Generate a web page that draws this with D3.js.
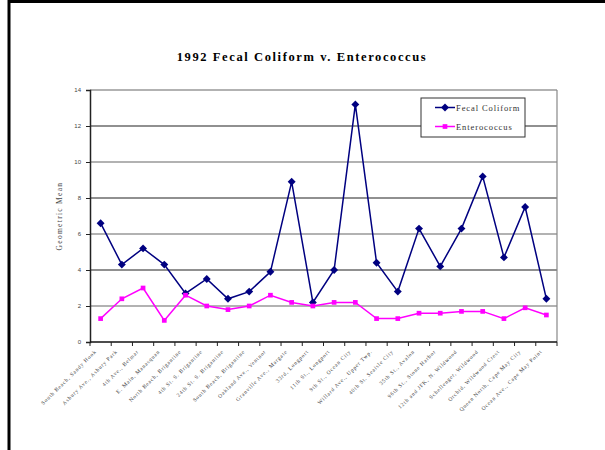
<!DOCTYPE html>
<html>
<head>
<meta charset="utf-8">
<script src="https://cdn.jsdelivr.net/npm/d3@7"></script>
<style>
	body { margin: 0; background: #fff; }
	svg { display: block; }
	.title { font: bold 12.5px 'Liberation Serif', serif; letter-spacing: 1.6px; }
	.axis text { font: 6px 'Liberation Sans', sans-serif; fill: #444; }
	.cat { font: 5.5px 'Liberation Serif', serif; fill: #444; letter-spacing: 0.75px; }
	.ylabel { font: 7.5px 'Liberation Serif', serif; fill: #444; letter-spacing: 1.3px; }
	.legend text { font: 8.5px 'Liberation Serif', serif; fill: #333; letter-spacing: 0.9px; }
</style>
</head>
<body>
<script>
const sites = [
	'South Beach, Sandy Hook', 'Asbury Ave., Asbury Park', '4th Ave., Belmar',
	'E. Main, Manasquan', 'North Beach, Brigantine', '4th St. S. Brigantine',
	'24th St. S. Brigantine', 'South Beach, Brigantine', 'Oakland Ave., Ventnor',
	'Granville Ave., Margate', '33rd, Longport', '11th St., Longport',
	'9th St., Ocean City', 'Willard Ave., Upper Twp.', '40th St. Seaisle City',
	'35th St., Avalon', '96th St., Stone Harbor', '12th and JFK, N. Wildwood',
	'Schellenger, Wildwood', 'Orchid, Wildwood Crest', 'Queen North, Cape May City',
	'Ocean Ave., Cape May Point'
];
const fecalColiform = [6.6, 4.3, 5.2, 4.3, 2.7, 3.5, 2.4, 2.8, 3.9, 8.9, 2.2,
	4.0, 13.2, 4.4, 2.8, 6.3, 4.2, 6.3, 9.2, 4.7, 7.5, 2.4];
const enterococcus = [1.3, 2.4, 3.0, 1.2, 2.6, 2.0, 1.8, 2.0, 2.6, 2.2, 2.0,
	2.2, 2.2, 1.3, 1.3, 1.6, 1.6, 1.7, 1.7, 1.3, 1.9, 1.5];
const yTicks = [0, 2, 4, 6, 8, 10, 12, 14];

const series = [
	{ name: 'Fecal Coliform', values: fecalColiform, color: '#000080', marker: 'diamond' },
	{ name: 'Enterococcus', values: enterococcus, color: '#ff00ff', marker: 'square' }
];

// dimension stuff
const W = 605;
const H = 450;
const marginLeft = 90;
const marginTop = 90;
const width = 467;
const height = 252;

const $svg = d3.select('body').append('svg')
	.attr('width', W)
	.attr('height', H);

// slide frame
$svg.append('path')
	.attr('d', `M9,${H} V1.5 H${W}`)
	.attr('fill', 'none')
	.attr('stroke', '#000')
	.attr('stroke-width', 3);

$svg.append('text')
	.attr('class', 'title')
	.attr('x', 302)
	.attr('y', 61)
	.attr('text-anchor', 'middle')
	.text('1992 Fecal Coliform v. Enterococcus');

// scales
const scaleX = d3.scaleBand().domain(sites).range([0, width]);
const scaleY = d3.scaleLinear().domain([0, 14]).range([height, 0]);

const $g = $svg.append('g')
	.attr('transform', `translate(${marginLeft}, ${marginTop})`);

// gridlines
$g.append('g').selectAll('line')
	.data(yTicks.filter(d => d > 0))
	.join('line')
	.attr('x1', 0)
	.attr('x2', width)
	.attr('y1', d => scaleY(d))
	.attr('y2', d => scaleY(d))
	.attr('stroke', (d, i) => i % 2 ? '#222' : '#666')
	.attr('stroke-width', 1.2);

// plot border (right side)
$g.append('line')
	.attr('x1', width).attr('x2', width)
	.attr('y1', 0).attr('y2', height)
	.attr('stroke', '#888')
	.attr('stroke-width', 1.2);

// axes
const axisY = d3.axisLeft(scaleY).tickValues(yTicks).tickSize(4).tickPadding(5);
const $axisY = $g.append('g').attr('class', 'axis').call(axisY);
$axisY.select('.domain').attr('stroke', '#222').attr('stroke-width', 1.5);
$axisY.selectAll('.tick line').attr('stroke', '#222');

const $axisX = $g.append('g')
	.attr('class', 'axis')
	.attr('transform', `translate(0, ${height})`);
$axisX.append('line')
	.attr('x1', 0).attr('x2', width)
	.attr('stroke', '#111')
	.attr('stroke-width', 1.5);
$axisX.selectAll('line.tick')
	.data(d3.range(sites.length + 1))
	.join('line')
	.attr('class', 'tick')
	.attr('x1', d => d * scaleX.step())
	.attr('x2', d => d * scaleX.step())
	.attr('y1', 0)
	.attr('y2', 4)
	.attr('stroke', '#222');

// category labels
$g.append('g').selectAll('text')
	.data(sites)
	.join('text')
	.attr('class', 'cat')
	.attr('text-anchor', 'end')
	.attr('transform', d => `translate(${scaleX(d) + scaleX.bandwidth() / 2 - 4}, ${height + 10}) rotate(-45)`)
	.text(d => d);

$svg.append('text')
	.attr('class', 'ylabel')
	.attr('text-anchor', 'middle')
	.attr('transform', `translate(62, ${marginTop + height / 2}) rotate(-90)`)
	.text('Geometric Mean');

// series
const diamond = d3.symbol(d3.symbolDiamond2, 40);
const square = d3.symbol(d3.symbolSquare, 22);
const cx = i => scaleX(sites[i]) + scaleX.bandwidth() / 2;

series.forEach(s => {
	const line = d3.line()
		.x((d, i) => cx(i))
		.y(d => scaleY(d));

	$g.append('path')
		.datum(s.values)
		.attr('d', line)
		.attr('fill', 'none')
		.attr('stroke', s.color)
		.attr('stroke-width', 1.5);

	$g.append('g').selectAll('path')
		.data(s.values)
		.join('path')
		.attr('transform', (d, i) => `translate(${cx(i)}, ${scaleY(d)})`)
		.attr('d', s.marker === 'diamond' ? diamond : square)
		.attr('fill', s.color);
});

// legend
const $legend = $svg.append('g')
	.attr('class', 'legend')
	.attr('transform', 'translate(421, 98)');
$legend.append('rect')
	.attr('width', 104)
	.attr('height', 39)
	.attr('fill', '#fff')
	.attr('stroke', '#333')
	.attr('stroke-width', 1);
const $item = $legend.selectAll('g.item')
	.data(series)
	.join('g')
	.attr('class', 'item')
	.attr('transform', (d, i) => `translate(0, ${9.5 + i * 19})`);
$item.append('line')
	.attr('x1', 14).attr('x2', 34)
	.attr('stroke', d => d.color)
	.attr('stroke-width', 1.5);
$item.append('path')
	.attr('transform', 'translate(24, 0)')
	.attr('d', d => d.marker === 'diamond' ? diamond() : square())
	.attr('fill', d => d.color);
$item.append('text')
	.attr('x', 35)
	.attr('y', 3)
	.text(d => d.name);
</script>
</body>
</html>
